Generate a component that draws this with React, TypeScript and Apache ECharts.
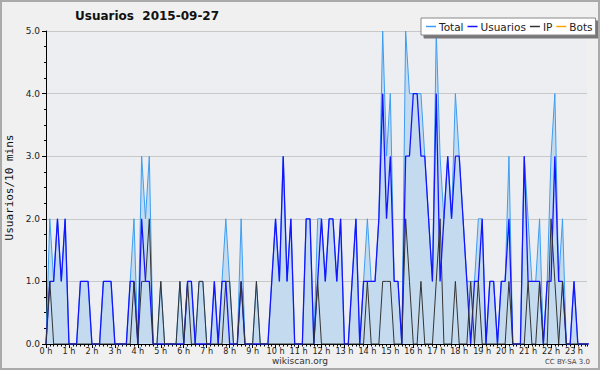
import React, { useEffect, useRef } from "react";
import * as echarts from "echarts";

const chartTitle = "Usuarios  2015-09-27";
const yAxisName = "Usuarios/10 mins";
const hourLabels = [
  "0 h", "1 h", "2 h", "3 h", "4 h", "5 h", "6 h", "7 h", "8 h", "9 h", "10 h", "11 h",
  "12 h", "13 h", "14 h", "15 h", "16 h", "17 h", "18 h", "19 h", "20 h", "21 h", "22 h", "23 h",
];
const seriesNames = ["Total", "Usuarios", "IP", "Bots"];

// one value per 10 minutes (144 slots)
const total = [
  0, 2, 1, 2, 1, 2, 0, 0, 0, 1,
  1, 1, 0, 0, 0, 1, 1, 1, 0, 0,
  0, 0, 1, 2, 0, 3, 2, 3, 0, 0,
  1, 0, 0, 0, 0, 1, 0, 1, 1, 0,
  1, 1, 0, 0, 1, 0, 1, 2, 1, 0,
  0, 2, 0, 0, 0, 1, 0, 0, 0, 1,
  2, 1, 3, 1, 2, 0, 0, 0, 2, 2,
  0, 2, 2, 1, 2, 2, 1, 2, 0, 0,
  1, 2, 0, 1, 2, 1, 1, 2, 5, 3,
  4, 1, 1, 0, 5, 4, 4, 4, 4, 3,
  2, 1, 5, 3, 2, 3, 2, 4, 3, 2,
  1, 1, 1, 2, 2, 0, 1, 1, 0, 1,
  1, 3, 0, 0, 0, 3, 2, 1, 1, 2,
  0, 1, 3, 4, 1, 2, 0, 0, 1, 0,
  0, 0, 0, 0,
];
const usuarios = [
  0, 1, 1, 2, 1, 2, 0, 0, 0, 1,
  1, 1, 0, 0, 0, 1, 1, 1, 0, 0,
  0, 0, 1, 1, 0, 2, 1, 1, 0, 0,
  0, 0, 0, 0, 0, 0, 0, 1, 1, 0,
  0, 0, 0, 0, 1, 0, 1, 1, 0, 0,
  0, 1, 0, 0, 0, 0, 0, 0, 0, 1,
  2, 1, 3, 1, 2, 0, 0, 0, 2, 2,
  0, 1, 2, 1, 2, 2, 1, 2, 0, 0,
  1, 2, 0, 1, 1, 1, 1, 2, 4, 2,
  3, 1, 1, 0, 3, 3, 4, 4, 3, 3,
  2, 1, 4, 1, 2, 3, 2, 3, 3, 2,
  1, 0, 1, 1, 2, 0, 1, 1, 0, 1,
  1, 2, 0, 0, 0, 3, 1, 1, 1, 1,
  0, 1, 1, 3, 1, 1, 0, 0, 1, 0,
  0, 0, 0, 0,
];
const ip = [
  0, 1, 0, 0, 0, 0, 0, 0, 0, 0,
  0, 0, 0, 0, 0, 0, 0, 0, 0, 0,
  0, 0, 0, 1, 0, 1, 1, 2, 0, 0,
  1, 0, 0, 0, 0, 1, 0, 1, 0, 0,
  1, 1, 0, 0, 0, 0, 0, 1, 1, 0,
  0, 1, 0, 0, 0, 1, 0, 0, 0, 0,
  0, 0, 0, 0, 0, 0, 0, 0, 0, 0,
  0, 1, 0, 0, 0, 0, 0, 0, 0, 0,
  0, 0, 0, 0, 1, 0, 0, 0, 1, 1,
  1, 0, 0, 0, 2, 1, 0, 0, 1, 0,
  0, 0, 1, 2, 0, 0, 0, 1, 0, 0,
  0, 1, 0, 1, 0, 0, 0, 0, 0, 0,
  0, 1, 0, 0, 0, 0, 1, 0, 0, 1,
  0, 0, 2, 1, 0, 1, 0, 0, 0, 0,
  0, 0, 0, 0,
];
const bots: number[] = [];

const X_MAX = 141.4;

export default function App() {
  const ref = useRef<HTMLDivElement>(null);
  useEffect(() => {
    document.body.style.margin = "0";
    const chart = echarts.init(ref.current as HTMLDivElement, null, { renderer: "svg" });
    const pts = (arr: number[]) => arr.map((v, i) => [i, v]);
    const font = "DejaVu Sans";
    const condensed = "'DejaVu Sans Condensed', 'DejaVu Sans'";
    chart.setOption({
      animation: false,
      backgroundColor: "#f0f0f0",
      title: {
        text: chartTitle,
        left: 70,
        top: 5,
        textStyle: { fontSize: 12, fontWeight: "bold", fontFamily: font, color: "#111" },
      },
      legend: {
        data: seriesNames,
        left: 421,
        top: 18,
        width: 175,
        backgroundColor: "#ffffff",
        borderColor: "#888",
        borderWidth: 1,
        padding: [3, 3, 3, 5],
        itemGap: 4,
        itemWidth: 10,
        itemHeight: 1.5,
        icon: "rect",
        shadowColor: "#777",
        shadowOffsetX: 3,
        shadowOffsetY: 3,
        shadowBlur: 0,
        textStyle: { fontSize: 10.5, fontFamily: font, color: "#222", padding: [0, 0, 0, -2] },
      },
      grid: {
        left: 46,
        top: 31,
        width: 541,
        height: 313,
        outerBoundsMode: "none",
        containLabel: false,
        show: true,
        backgroundColor: "#eceef1",
        borderWidth: 0,
      },
      xAxis: [
        {
          type: "value",
          min: 0,
          max: X_MAX,
          interval: 6,
          axisLine: { lineStyle: { color: "#000", width: 1 } },
          axisTick: { length: 4, lineStyle: { color: "#000" } },
          axisLabel: {
            formatter: (v: number) => hourLabels[v / 6] ?? "",
            showMaxLabel: false,
            fontSize: 9,
            fontFamily: condensed,
            color: "#222",
            margin: 2,
          },
          splitLine: { show: false },
        },
        {
          type: "value",
          min: 0,
          max: X_MAX,
          interval: 1,
          position: "bottom",
          axisLine: { show: false },
          axisTick: { length: 2.5, lineStyle: { color: "#000" } },
          axisLabel: { show: false },
          splitLine: { show: false },
        },
      ],
      yAxis: {
        type: "value",
        min: 0,
        max: 5,
        interval: 1,
        name: yAxisName,
        nameLocation: "middle",
        nameGap: 31,
        nameRotate: 90,
        nameTextStyle: { fontSize: 11, fontFamily: "DejaVu Sans Mono", color: "#111" },
        axisLine: { show: true, lineStyle: { color: "#000", width: 1 } },
        axisTick: { show: true, length: 4, lineStyle: { color: "#000" } },
        minorTick: { show: true, splitNumber: 4, length: 2, lineStyle: { color: "#000" } },
        axisLabel: {
          formatter: (v: number) => v.toFixed(1),
          fontSize: 9,
          fontFamily: font,
          color: "#222",
          margin: 6,
        },
        splitLine: { show: true, lineStyle: { color: "#c8c8c8", width: 1 } },
      },
      series: [
        {
          name: seriesNames[0],
          type: "line",
          data: pts(total),
          symbol: "none",
          color: "#3d9df2",
          lineStyle: { color: "#3d9df2", width: 1 },
          areaStyle: { color: "#c4dbef", opacity: 1 },
          z: 2,
        },
        {
          name: seriesNames[1],
          type: "line",
          data: pts(usuarios),
          symbol: "none",
          color: "#1414ff",
          lineStyle: { color: "#1414ff", width: 1.3 },
          z: 3,
        },
        {
          name: seriesNames[2],
          type: "line",
          data: pts(ip),
          symbol: "none",
          color: "#333333",
          lineStyle: { color: "#333333", width: 1 },
          z: 4,
        },
        {
          name: seriesNames[3],
          type: "line",
          data: pts(bots),
          symbol: "none",
          color: "#ffa500",
          lineStyle: { color: "#ffa500", width: 1 },
          z: 5,
        },
      ],
      graphic: [
        {
          type: "text",
          left: "center",
          top: 356,
          style: { text: "wikiscan.org", fontSize: 9, fontFamily: font, fill: "#333" },
        },
        {
          type: "text",
          right: 10,
          top: 358,
          style: { text: "CC BY-SA 3.0", fontSize: 7, fontFamily: font, fill: "#444" },
        },
        {
          type: "rect",
          shape: { x: 1, y: 1, width: 598, height: 368 },
          style: { fill: "none", stroke: "#aaaaaa", lineWidth: 2 },
          silent: true,
          z: 100,
        },
      ],
    });
    return () => chart.dispose();
  }, []);
  return <div ref={ref} style={{ width: 600, height: 370 }} />;
}
